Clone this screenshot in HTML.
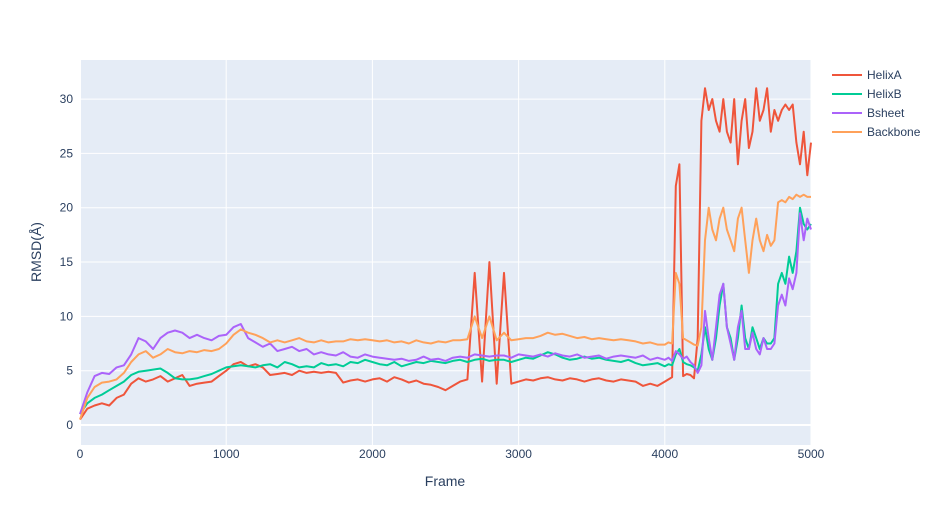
<!DOCTYPE html>
<html><head><meta charset="utf-8"><style>
body{margin:0;background:#fff;font-family:"Liberation Sans",Arial,sans-serif;}
</style></head><body>
<svg id="c" width="943" height="525" xmlns="http://www.w3.org/2000/svg"></svg>
<script>
const frames=[];for(let f=0;f<4000;f+=50)frames.push(f);for(let f=4000;f<=5000;f+=25)frames.push(f);
const seriesNames=["HelixA","HelixB","Bsheet","Backbone"];
const seriesColors=["#EF553B","#00CC96","#AB63FA","#FFA15A"];
const helixA=[0.5,1.5,1.8,2.0,1.8,2.5,2.8,3.8,4.3,4.0,4.2,4.5,4.0,4.3,4.6,3.6,3.8,3.9,4.0,4.5,5.0,5.6,5.8,5.4,5.6,5.3,4.6,4.7,4.8,4.6,5.0,4.8,4.9,4.8,4.9,4.8,3.9,4.1,4.2,4.0,4.2,4.3,4.0,4.4,4.2,3.9,4.1,3.8,3.7,3.5,3.2,3.6,4.0,4.2,14,4,15,3.8,14,3.8,4.0,4.2,4.1,4.3,4.4,4.2,4.1,4.3,4.2,4.0,4.2,4.3,4.1,4.0,4.2,4.1,4.0,3.6,3.8,3.6,
4.0,4.2,4.4,22,24,4.5,4.7,4.6,4.3,8,28,31,29,30,28,27,30,27,26,30,24,28,30,25.5,27,31,28,29,31,27,29,28,29,29.5,29,29.5,26,24,27,23,26];
const helixB=[1,2,2.5,2.8,3.2,3.6,4,4.6,4.9,5.0,5.1,5.2,4.8,4.3,4.2,4.2,4.3,4.5,4.7,5.0,5.3,5.4,5.5,5.4,5.3,5.5,5.6,5.3,5.8,5.6,5.3,5.4,5.3,5.7,5.5,5.6,5.4,5.8,5.7,6.0,5.8,5.6,5.5,5.8,5.4,5.6,5.8,5.7,5.9,5.8,5.7,5.9,6.0,5.8,6.0,6.1,5.9,6.0,6.0,5.8,6.0,6.2,6.1,6.4,6.7,6.5,6.2,6.0,6.1,6.3,6.1,6.2,6.0,5.9,5.8,6.0,5.7,5.5,5.6,5.7,
5.4,5.6,5.5,6.5,7,5.8,5.6,5.5,5.3,5.0,6.5,9,7,6,8,11,13,9,8,6,8,11,8,7,9,8,7,8,7.5,7.5,8,13,14,13,15.5,14,16,20,18.5,18,18.5];
const bsheet=[1,3,4.5,4.8,4.7,5.3,5.5,6.5,8,7.7,7.0,8.0,8.5,8.7,8.5,8.0,8.3,8.0,7.8,8.2,8.3,9.0,9.3,8.0,7.6,7.2,7.5,6.8,7.0,7.2,6.8,7.0,6.5,6.7,6.5,6.4,6.7,6.3,6.2,6.5,6.3,6.2,6.1,6.0,6.1,5.9,6.0,6.3,6.0,6.1,5.9,6.2,6.3,6.2,6.5,6.4,6.3,6.4,6.4,6.2,6.5,6.4,6.3,6.5,6.3,6.6,6.4,6.3,6.5,6.2,6.3,6.4,6.1,6.3,6.4,6.3,6.2,6.4,6.0,6.2,
6.0,6.2,5.9,6.8,6.5,6.1,6.3,5.8,5.5,4.8,5.5,10.5,8,6,9,12,13,9,7.5,6,9,10.5,7,7,8.5,7,6.5,8,7,7,7.5,11,12,11,13.5,12.5,14,19.5,17,19,18];
const backbone=[0.5,2.5,3.5,3.9,4.0,4.2,4.8,5.8,6.5,6.8,6.2,6.5,7.0,6.7,6.6,6.8,6.7,6.9,6.8,7.0,7.5,8.3,8.8,8.5,8.3,8.0,7.6,7.8,7.6,7.8,8.0,7.7,7.6,7.8,7.6,7.7,7.7,7.9,7.8,7.9,7.8,7.7,7.8,7.6,7.7,7.5,7.8,7.6,7.5,7.7,7.6,7.8,7.8,7.9,10,8.0,10,7.8,8.5,7.8,7.9,8.0,8.0,8.2,8.5,8.3,8.4,8.2,8.0,8.1,7.9,8.0,7.9,7.8,7.9,7.8,7.7,7.5,7.6,7.4,
7.4,7.6,7.5,14,13,8,7.8,7.6,7.4,7.3,9,17,20,18,17,19,20,18,17,16,19,20,17,14,17,19,17,16,17.5,16.5,17,20.5,20.7,20.5,21,20.8,21.2,21,21.2,21,21];
const xTicks=[0,1000,2000,3000,4000,5000];
const yTicks=[0,5,10,15,20,25,30];

const NS="http://www.w3.org/2000/svg",svg=document.getElementById("c");
const L=80,R=811,T=60,B=445,xMin=0,xMax=5000,yMin=-1.84,yMax=33.6;
const xs=v=>L+(v-xMin)/(xMax-xMin)*(R-L);
const ys=v=>B-(v-yMin)/(yMax-yMin)*(B-T);
function mk(t,a,p){const e=document.createElementNS(NS,t);for(const k in a)e.setAttribute(k,a[k]);(p||svg).appendChild(e);return e;}
const bg=mk("rect",{x:L,y:T,width:R-L,height:B-T,fill:"#E5ECF6"});


xTicks.forEach(v=>{
 const g=mk("line",{x1:xs(v),x2:xs(v),y1:T,y2:B,stroke:"#fff","stroke-width":v===0?2:1});
 
 
 const t=mk("text",{x:xs(v),y:458,"text-anchor":"middle","font-size":12,fill:"#2a3f5f"});t.textContent=v;
 
 
});
yTicks.forEach(v=>{
 const g=mk("line",{x1:L,x2:R,y1:ys(v),y2:ys(v),stroke:"#fff","stroke-width":v===0?2:1});
 
 
 const t=mk("text",{x:73,y:ys(v)+4,"text-anchor":"end","font-size":12,fill:"#2a3f5f"});t.textContent=v;
 
 
});
const data=[helixA,helixB,bsheet,backbone];
data.forEach((arr,i)=>{
 const d=arr.map((v,j)=>(j?"L":"M")+xs(frames[j]).toFixed(1)+","+ys(v).toFixed(1)).join("");
 const p=mk("path",{d:d,fill:"none",stroke:seriesColors[i],"stroke-width":2,"stroke-linejoin":"round"});
 
 
 const ly=75+i*19;
 const lg=mk("g",{});
 
 
 mk("line",{x1:832,x2:862,y1:ly,y2:ly,stroke:seriesColors[i],"stroke-width":2},lg);
 const t=mk("text",{x:867,y:ly+4,"font-size":12,fill:"#2a3f5f"},lg);t.textContent=seriesNames[i];
});
const xt=mk("text",{x:445,y:486,"text-anchor":"middle","font-size":14,fill:"#2a3f5f"});xt.textContent="Frame";


const yt=mk("text",{x:0,y:0,"text-anchor":"middle","font-size":14,fill:"#2a3f5f",transform:"translate(41,252) rotate(-90)"});yt.textContent="RMSD(Å)";


</script>
</body></html>
